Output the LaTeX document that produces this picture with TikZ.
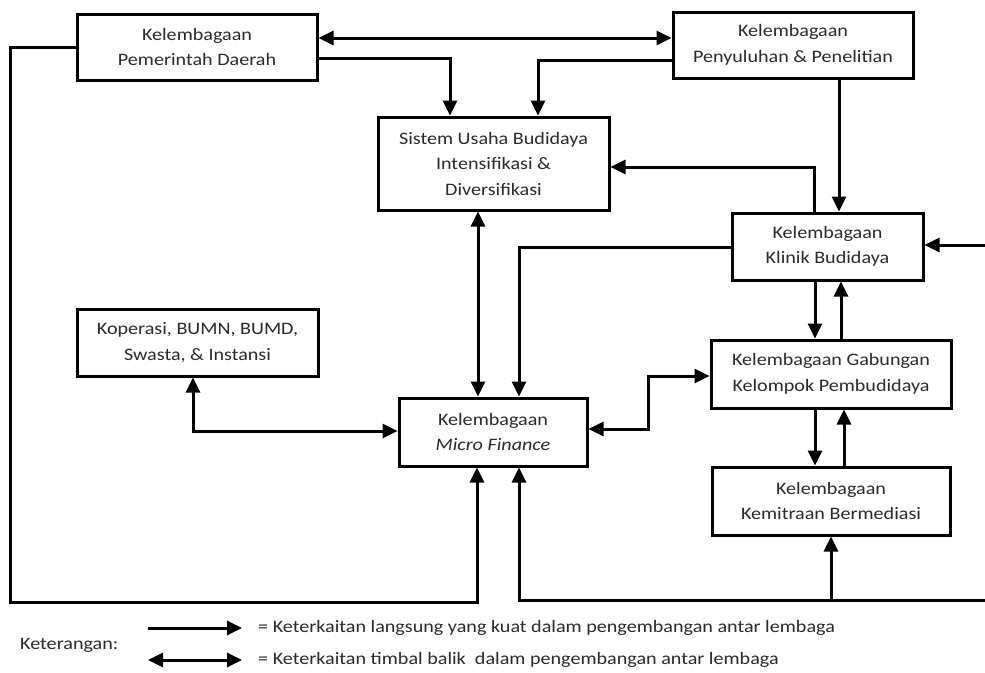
\documentclass[tikz,border=0pt]{standalone}
\usepackage{fontspec}
\setmainfont{Carlito}[FakeStretch=1.15]
\usetikzlibrary{arrows.meta}
\definecolor{txt}{HTML}{2A2A2A}
\tikzset{
  box/.style={draw=black, line width=3pt, rectangle, align=center, text=txt,
    font=\fontsize{17.5}{25.5}\selectfont, inner sep=0pt},
  arr/.style={line width=3pt, -{Triangle[length=15pt,width=14pt]}},
  dbl/.style={line width=3pt, {Triangle[length=15pt,width=14pt]}-{Triangle[length=15pt,width=14pt]}},
  legtext/.style={anchor=west, text=txt, font=\fontsize{17.5}{21}\selectfont, inner sep=0pt}
}
\begin{document}
\begin{tikzpicture}[x=1pt,y=-1pt]
\useasboundingbox (0,0) rectangle (985,672);
\fill[white] (0,0) rectangle (985,672);

\node[box, minimum width=240pt, minimum height=66pt] (pd) at (197,47) {Kelembagaan\\Pemerintah Daerah};
\node[box, minimum width=240pt, minimum height=66pt] (pp) at (793,45) {Kelembagaan\\Penyuluhan \& Penelitian};
\node[box, minimum width=231pt, minimum height=93pt] (su) at (493.5,163.5) {Sistem Usaha Budidaya\\Intensifikasi \&\\Diversifikasi};
\node[box, minimum width=191pt, minimum height=67pt] (kb) at (827.5,246.5) {Kelembagaan\\Klinik Budidaya};
\node[box, minimum width=241pt, minimum height=67pt] (ko) at (197.5,342.5) {Koperasi, BUMN, BUMD,\\Swasta, \& Instansi};
\node[box, minimum width=188pt, minimum height=68pt] (mf) at (493,432) {Kelembagaan\\\textit{Micro Finance}};
\node[box, minimum width=240pt, minimum height=68pt] (gb) at (831,374) {Kelembagaan Gabungan\\Kelompok Pembudidaya};
\node[box, minimum width=238pt, minimum height=68pt] (km) at (831,501) {Kelembagaan\\Kemitraan Bermediasi};

% connectors
\draw[dbl] (pd.east |- 0,38) -- (pp.west |- 0,38);
\draw[arr] (pd.east |- 0,58) -| (450,0 |- su.north);
\draw[arr] (pp.west |- 0,60) -| (538,0 |- su.north);
\draw[arr] (839,0 |- pp.south) -- (839,0 |- kb.north);
\draw[arr] (814,0 |- kb.north) |- (su.east |- 0,167);
\draw[arr] (pd.west |- 0,47) -| (10,602) -| (477,0 |- mf.south);
\draw[dbl] (478,0 |- su.south) -- (478,0 |- mf.north);
\draw[arr] (kb.west |- 0,247) -| (519,0 |- mf.north);
\draw[dbl] (193,0 |- ko.south) |- (mf.west |- 0,431);
\draw[dbl] (mf.east |- 0,429) -| (648,376) -- (gb.west |- 0,376);
\draw[arr] (815,0 |- kb.south) -- (815,0 |- gb.north);
\draw[arr] (841,0 |- gb.north) -- (841,0 |- kb.south);
\draw[arr] (815,0 |- gb.south) -- (815,0 |- km.north);
\draw[arr] (844,0 |- km.north) -- (844,0 |- gb.south);
\coordinate (e1) at (987,245);
\draw[arr] (e1) -- (kb.east |- e1);
\coordinate (e2) at (987,600);
\draw[arr] (e2) -| (519,0 |- mf.south);
\coordinate (kmb) at (831,600);
\draw[arr] (kmb) -- (831,0 |- km.south);

% legend
\node[legtext] (ket) at (20,645) {Keterangan:};
\coordinate (l1a) at (148,628);
\coordinate (l1b) at (242,628);
\draw[arr] (l1a) -- (l1b);
\node[legtext] (t1) at (258,628) {= Keterkaitan langsung yang kuat dalam pengembangan antar lembaga};
\coordinate (l2a) at (148,660);
\coordinate (l2b) at (242,660);
\draw[dbl] (l2a) -- (l2b);
\node[legtext] (t2) at (258,660) {= Keterkaitan timbal balik~ dalam pengembangan antar lembaga};
\end{tikzpicture}
\end{document}
